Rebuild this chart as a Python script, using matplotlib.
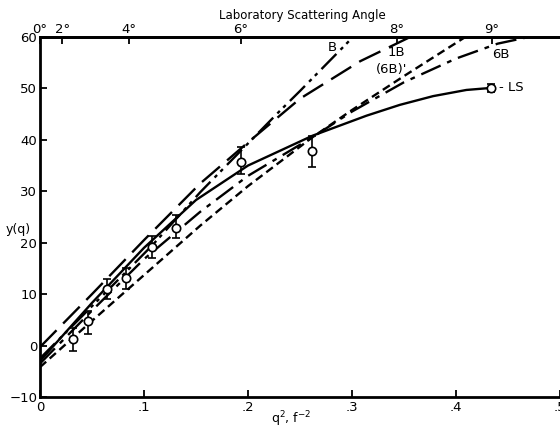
import numpy as np
import matplotlib
matplotlib.use("Agg")
import matplotlib.pyplot as plt

# ---- data ----
pts_q2 = [0.032, 0.046, 0.064, 0.083, 0.108, 0.131, 0.193, 0.262, 0.434]
pts_y = [1.2, 4.7, 11.0, 13.2, 19.2, 22.9, 35.7, 37.9, 50.1]
pts_lo = [2.2, 2.4, 2.0, 2.2, 2.1, 1.9, 2.3, 3.1, 0.8]
pts_hi = [2.3, 2.1, 2.0, 1.9, 2.2, 2.5, 2.9, 2.9, 0.8]

B_x = [0.0, 0.064, 0.108, 0.154, 0.2, 0.23, 0.25, 0.301]
B_y = [-2.5, 10.5, 19.5, 29.8, 39.3, 45.5, 49.5, 60.0]

B1_x = [0.0, 0.05, 0.1, 0.154, 0.2, 0.25, 0.308, 0.356]
B1_y = [-0.3, 10.0, 20.5, 31.5, 39.5, 48.0, 55.3, 60.0]

LS_x = [0.0, 0.05, 0.1, 0.15, 0.2, 0.262, 0.314, 0.346, 0.378, 0.41, 0.434]
LS_y = [-3.0, 8.3, 19.0, 28.3, 35.0, 40.8, 44.7, 46.8, 48.5, 49.7, 50.1]

B6_x = [0.0, 0.05, 0.1, 0.154, 0.2, 0.262, 0.3, 0.35, 0.4, 0.44, 0.47]
B6_y = [-3.5, 6.8, 16.8, 26.0, 33.0, 40.5, 45.5, 51.2, 55.8, 58.7, 60.0]

B6p_x = [0.0, 0.05, 0.1, 0.154, 0.2, 0.262, 0.3, 0.35, 0.409]
B6p_y = [-4.2, 4.8, 13.7, 23.3, 31.0, 40.5, 45.8, 52.4, 60.0]

x_ticks = [0, 0.1, 0.2, 0.3, 0.4, 0.5]
x_ticklabels = ["0", ".1", ".2", ".3", ".4", ".5"]
y_ticks = [-10, 0, 10, 20, 30, 40, 50, 60]
angle_ticks = [0, 2, 4, 6, 8, 9]
angle_labels = ["0°", "2°", "4°", "6°", "8°", "9°"]
angle_c = 0.00536  # q^2 = c * theta^2

# ---- figure ----
fig = plt.figure(figsize=(5.6, 4.29), dpi=100)
ax = fig.add_axes([0.0714, 0.0746, 0.9286, 0.8392])
ax.set_xlim(0, 0.5)
ax.set_ylim(-10, 60)

lw = 1.7
ax.plot(B_x, B_y, color="black", lw=lw, dashes=(9, 2.5, 1.5, 2, 1.5, 2.5))
ax.plot(B1_x, B1_y, color="black", lw=lw, dashes=(10, 4))
ax.plot(B6p_x, B6p_y, color="black", lw=lw, dashes=(3.5, 2))
ax.plot(B6_x, B6_y, color="black", lw=lw, dashes=(9, 3, 2, 3))
ax.plot(LS_x, LS_y, color="black", lw=lw)

ax.errorbar(pts_q2, pts_y, yerr=[pts_lo, pts_hi], fmt="o", mfc="white",
            mec="black", ecolor="black", ms=6, mew=1.2, elinewidth=1.2,
            capsize=3, capthick=1.2, zorder=5)

for s in ["left", "bottom", "top"]:
    ax.spines[s].set_linewidth(2)
ax.spines["right"].set_visible(False)

ax.set_xticks(x_ticks)
ax.set_xticklabels(x_ticklabels)
ax.set_yticks(y_ticks)
ax.tick_params(direction="in", length=5, width=1.3, labelsize=9.5, pad=3)
ax.tick_params(axis="y", pad=2)

sec = ax.secondary_xaxis(
    "top",
    functions=(lambda q: np.sqrt(np.clip(q, 0, None) / angle_c),
               lambda t: angle_c * np.asarray(t) ** 2))
sec.set_xticks(angle_ticks)
sec.set_xticklabels(angle_labels)
sec.tick_params(direction="in", length=5, width=1.3, labelsize=9.5, pad=1)
sec.spines["top"].set_linewidth(2)

fig.text(0.54, 0.965, "Laboratory Scattering Angle", ha="center", va="center",
         fontsize=8.5)
fig.text(0.032, 0.465, "y(q)", ha="center", va="center", fontsize=9)
fig.text(0.52, 0.022, "q$^2$, f$^{-2}$", ha="center", va="center", fontsize=9)

ax.text(0.281, 57.9, "B", ha="center", va="center", fontsize=9.5)
ax.text(0.343, 57.0, "1B", ha="center", va="center", fontsize=9.5)
ax.text(0.338, 53.6, "(6B)'", ha="center", va="center", fontsize=9.5)
ax.text(0.443, 56.6, "6B", ha="center", va="center", fontsize=9.5)
ax.text(0.441, 50.1, "- LS", ha="left", va="center", fontsize=9.5)

fig.savefig("out.png", dpi=100)
